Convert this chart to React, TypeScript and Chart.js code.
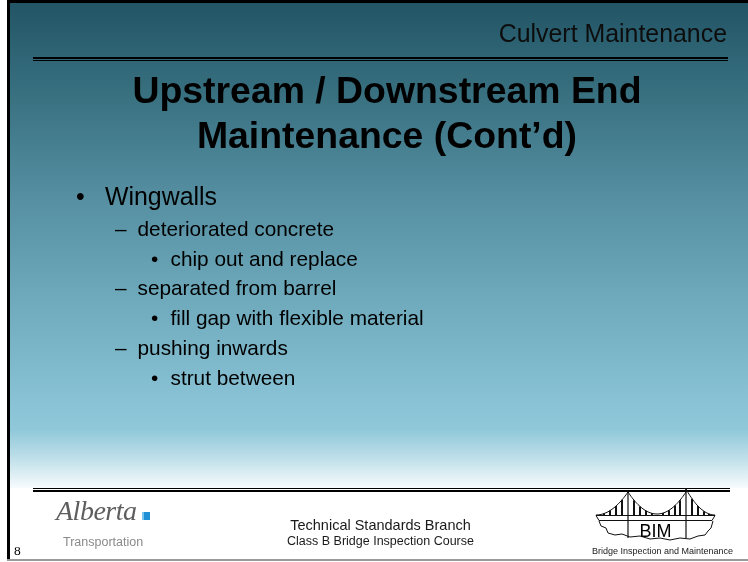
import React, { useEffect, useRef } from "react";
import { Chart, registerables } from "chart.js";

Chart.register(...registerables);

// ---- content ----
const sectionLabel = "Culvert Maintenance";
const titleLines = ["Upstream / Downstream End", "Maintenance (Cont’d)"];
const bulletTexts = [
  "Wingwalls",
  "deteriorated concrete",
  "chip out and replace",
  "separated from barrel",
  "fill gap with flexible material",
  "pushing inwards",
  "strut between",
];
const bulletLevels = [1, 2, 3, 2, 3, 2, 3];
const footerLines = ["Technical Standards Branch", "Class B Bridge Inspection Course"];
const logoLeftWords = ["Alberta", "Transportation"];
const logoRightWords = ["BIM", "Bridge Inspection and Maintenance"];
const slideNumber = "8";

// ---- styling ----
const SANS = '"Liberation Sans", Arial, Helvetica, sans-serif';
const SERIF = '"Liberation Serif", "Times New Roman", serif';
const W = 748;
const H = 562;

// top position for a line box whose line-height equals font size, given a baseline
const topFor = (baseline: number, fs: number, asc = 0.8465) => baseline - asc * fs;

const levelStyle: Record<number, { marker: string; markerX: number; textX: number; fs: number }> = {
  1: { marker: "•", markerX: 76, textX: 105, fs: 24.9 },
  2: { marker: "–", markerX: 115, textX: 137.5, fs: 20.8 },
  3: { marker: "•", markerX: 151, textX: 170.5, fs: 20.8 },
};

const bulletBaseline = (i: number) => (i === 0 ? 205.5 : 236.5 + (i - 1) * 29.8);

const slidePlugin = {
  id: "slideBackground",
  beforeDraw(chart: any) {
    const ctx: CanvasRenderingContext2D = chart.ctx;
    ctx.save();
    ctx.fillStyle = "#ffffff";
    ctx.fillRect(0, 0, W, H);

    // gradient body
    const g = ctx.createLinearGradient(0, 3, 0, 488);
    g.addColorStop(0, "#225566");
    g.addColorStop(0.2, "#3a7282");
    g.addColorStop(0.41, "#5690a2");
    g.addColorStop(0.61, "#6eaabc");
    g.addColorStop(0.82, "#88c2d4");
    g.addColorStop(0.88, "#90c8d9");
    g.addColorStop(0.94, "#c0e0ea");
    g.addColorStop(1, "#f7fbfd");
    ctx.fillStyle = g;
    ctx.fillRect(10, 3, W - 10, 485);

    // black frame (top / left)
    ctx.fillStyle = "#000";
    ctx.fillRect(7, 0, W - 7, 3);
    ctx.fillRect(7, 0, 3, 560);

    // bottom grey line
    ctx.fillStyle = "#9a9a9a";
    ctx.fillRect(7, 559, W - 7, 2);

    // double rules
    ctx.fillStyle = "#000";
    ctx.fillRect(33, 57, 695, 2);
    ctx.fillRect(33, 60, 695, 1);
    ctx.fillRect(33, 488, 697, 1);
    ctx.fillRect(33, 490, 697, 2);

    // Alberta blue square
    ctx.fillStyle = "#1f8fd6";
    ctx.fillRect(142, 512, 8, 8);
    ctx.fillStyle = "#7cc4ee";
    ctx.fillRect(142, 512, 2, 8);

    // BIM bridge logo
    ctx.strokeStyle = "#111";
    ctx.lineWidth = 1;
    const leftY = (x: number) => 515 - 0.02246 * (x - 596) * (x - 596);
    const midY = (x: number) => 514 - 0.02616 * (x - 657) * (x - 657);
    const rightY = (x: number) => 515 - 0.0309 * (715 - x) * (715 - x);
    ctx.beginPath();
    for (let x = 596; x <= 628; x += 1) (x === 596 ? ctx.moveTo(x, leftY(x)) : ctx.lineTo(x, leftY(x)));
    for (let x = 628; x <= 686; x += 1) ctx.lineTo(x, Math.max(midY(x), 489));
    for (let x = 686; x <= 715; x += 1) ctx.lineTo(x, rightY(x));
    ctx.stroke();

    // deck
    ctx.beginPath();
    ctx.moveTo(596, 515.5);
    ctx.lineTo(715, 515.5);
    ctx.moveTo(599, 520.5);
    ctx.lineTo(712, 520.5);
    ctx.moveTo(596, 515.5);
    ctx.lineTo(599, 520.5);
    ctx.moveTo(715, 515.5);
    ctx.lineTo(712, 520.5);
    ctx.stroke();

    // hangers
    ctx.lineWidth = 2;
    ctx.beginPath();
    [604, 610, 616, 622].forEach((x) => {
      ctx.moveTo(x, leftY(x));
      ctx.lineTo(x, 516);
    });
    [634, 640, 646, 652, 663, 669, 675, 680].forEach((x) => {
      ctx.moveTo(x, midY(x));
      ctx.lineTo(x, 516);
    });
    [692, 698, 704, 709].forEach((x) => {
      ctx.moveTo(x, rightY(x));
      ctx.lineTo(x, 516);
    });
    ctx.stroke();

    // towers
    ctx.lineWidth = 1.2;
    ctx.beginPath();
    ctx.moveTo(628, 491);
    ctx.lineTo(628, 538);
    ctx.moveTo(686, 488);
    ctx.lineTo(686, 538);
    ctx.stroke();

    // rock base
    ctx.lineWidth = 1;
    const rock = [
      [599, 521], [601, 526], [606, 528], [608, 533], [615, 535], [622, 534], [630, 537],
      [640, 536], [650, 539], [660, 538], [670, 540], [680, 538], [690, 539], [698, 536],
      [705, 535], [708, 531], [711, 528], [713, 521],
    ];
    ctx.beginPath();
    rock.forEach(([x, y], i) => (i === 0 ? ctx.moveTo(x, y) : ctx.lineTo(x, y)));
    ctx.stroke();

    ctx.restore();
  },
};

export default function App() {
  const canvasRef = useRef<HTMLCanvasElement | null>(null);

  useEffect(() => {
    if (!canvasRef.current) return;
    const chart = new Chart(canvasRef.current, {
      type: "bar",
      data: { labels: [], datasets: [] },
      options: {
        animation: false,
        responsive: false,
        devicePixelRatio: 1,
        events: [],
        layout: { padding: 0 },
        scales: { x: { display: false }, y: { display: false } },
        plugins: { legend: { display: false }, tooltip: { enabled: false }, title: { display: false } },
      },
      plugins: [slidePlugin],
    });
    return () => chart.destroy();
  }, []);

  const abs = (o: React.CSSProperties): React.CSSProperties => ({
    position: "absolute",
    whiteSpace: "nowrap",
    margin: 0,
    ...o,
  });

  return (
    <div style={{ position: "fixed", left: 0, top: 0, width: W, height: H, overflow: "hidden", background: "#fff" }}>
      <canvas ref={canvasRef} width={W} height={H} style={{ position: "absolute", left: 0, top: 0, width: W, height: H }} />

      <div
        style={abs({
          left: 0,
          width: 727,
          textAlign: "right",
          top: topFor(42, 24.9),
          fontFamily: SANS,
          fontSize: 24.9,
          lineHeight: "24.9px",
          color: "#0d0d0d",
        })}
      >
        {sectionLabel}
      </div>

      {titleLines.map((t, i) => (
        <div
          key={t}
          style={abs({
            left: 0,
            width: 774,
            textAlign: "center",
            top: topFor(i === 0 ? 103.5 : 149, 37.4),
            fontFamily: SANS,
            fontWeight: "bold",
            fontSize: 37.4,
            lineHeight: "37.4px",
            color: "#000",
          })}
        >
          {t}
        </div>
      ))}

      {bulletTexts.map((t, i) => {
        const s = levelStyle[bulletLevels[i]];
        const top = topFor(bulletBaseline(i), s.fs);
        const common: React.CSSProperties = {
          fontFamily: SANS,
          fontSize: s.fs,
          lineHeight: `${s.fs}px`,
          color: "#000",
          top,
        };
        return (
          <React.Fragment key={t}>
            <div style={abs({ ...common, left: s.markerX })}>{s.marker}</div>
            <div style={abs({ ...common, left: s.textX })}>{t}</div>
          </React.Fragment>
        );
      })}

      {footerLines.map((t, i) => {
        const fs = i === 0 ? 14.5 : 12.5;
        const baseline = i === 0 ? 530 : 546;
        return (
          <div
            key={t}
            style={abs({
              left: 0,
              width: 761,
              textAlign: "center",
              top: topFor(baseline, fs),
              fontFamily: SANS,
              fontSize: fs,
              lineHeight: `${fs}px`,
              color: "#1a1a1a",
            })}
          >
            {t}
          </div>
        );
      })}

      <div
        style={abs({
          left: 56,
          top: topFor(520, 28, 0.8375),
          fontFamily: SERIF,
          fontStyle: "italic",
          fontSize: 28,
          lineHeight: "28px",
          color: "#5e5e5e",
          letterSpacing: -0.5,
        })}
      >
        {logoLeftWords[0]}
      </div>
      <div
        style={abs({
          left: 63,
          top: topFor(546.7, 12.5),
          fontFamily: SANS,
          fontSize: 12.5,
          lineHeight: "12.5px",
          color: "#8a8a8a",
        })}
      >
        {logoLeftWords[1]}
      </div>

      <div
        style={abs({
          left: 0,
          width: 1311,
          textAlign: "center",
          top: topFor(537, 18),
          fontFamily: SANS,
          fontSize: 18,
          lineHeight: "18px",
          color: "#000",
        })}
      >
        {logoRightWords[0]}
      </div>
      <div
        style={abs({
          left: 0,
          width: 1325,
          textAlign: "center",
          top: topFor(554.5, 9),
          fontFamily: SANS,
          fontSize: 9,
          lineHeight: "9px",
          color: "#1a1a1a",
        })}
      >
        {logoRightWords[1]}
      </div>

      <div
        style={abs({
          left: 14,
          top: topFor(555, 13.5, 0.8375),
          fontFamily: SERIF,
          fontSize: 13.5,
          lineHeight: "13.5px",
          color: "#000",
        })}
      >
        {slideNumber}
      </div>
    </div>
  );
}
